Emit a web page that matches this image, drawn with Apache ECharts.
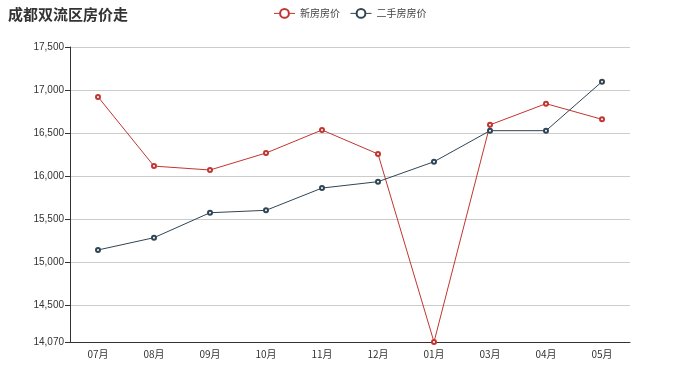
<!DOCTYPE html>
<html><head><meta charset="utf-8">
<script src="https://cdn.jsdelivr.net/npm/echarts@6/dist/echarts.min.js"></script>
<style>html,body{margin:0;padding:0;background:#fff}#c{width:700px;height:389px}</style>
</head><body><div id="c"></div>
<script>
const categories = ['07月','08月','09月','10月','11月','12月','01月','03月','04月','05月'];
const newHouse = [16920, 16115, 16070, 16267, 16535, 16256, 14070, 16595, 16841, 16659];
const secondHand = [15140, 15283, 15573, 15601, 15860, 15934, 16166, 16527, 16527, 17097];
const seriesNames = ['新房房价', '二手房房价'];
const titleText = '成都双流区房价走';

const chart = echarts.init(document.getElementById('c'));
chart.setOption({
  animation: false,
  color: ['#c23531', '#2f4554'],
  title: { text: titleText, left: 3, top: 2, textStyle: { fontSize: 15, fontWeight: 'bold', color: '#333', fontFamily: 'Noto Sans CJK SC' } },
  legend: { data: seriesNames, top: 3, left: 'center', itemWidth: 21, itemHeight: 11, itemGap: 10,
    itemStyle: { borderWidth: 1 }, lineStyle: { width: 1 },
    textStyle: { fontSize: 10, color: '#444', fontFamily: 'Noto Sans CJK SC' } },
  grid: { left: 70, right: 70, top: 47, bottom: 47 },
  xAxis: { type: 'category', data: categories, boundaryGap: true,
    axisLine: { lineStyle: { color: '#333' } }, axisTick: { lineStyle: { color: '#333' } },
    axisLabel: { fontSize: 10, color: '#333', margin: 7, fontFamily: 'Noto Sans CJK SC' } },
  yAxis: { type: 'value', min: 14070, max: 17500, splitNumber: 7,
    axisLine: { show: true, lineStyle: { color: '#333' } }, axisTick: { show: true, lineStyle: { color: '#333' } },
    axisLabel: { fontSize: 10, color: '#333', margin: 6, fontFamily: 'Liberation Sans' },
    splitLine: { lineStyle: { color: '#ccc' } } },
  series: [
    { name: seriesNames[0], type: 'line', data: newHouse, symbol: 'emptyCircle', symbolSize: 4, itemStyle: { borderWidth: 1 }, lineStyle: { width: 1 } },
    { name: seriesNames[1], type: 'line', data: secondHand, symbol: 'emptyCircle', symbolSize: 4, itemStyle: { borderWidth: 1 }, lineStyle: { width: 1 } }
  ]
});
</script></body></html>
